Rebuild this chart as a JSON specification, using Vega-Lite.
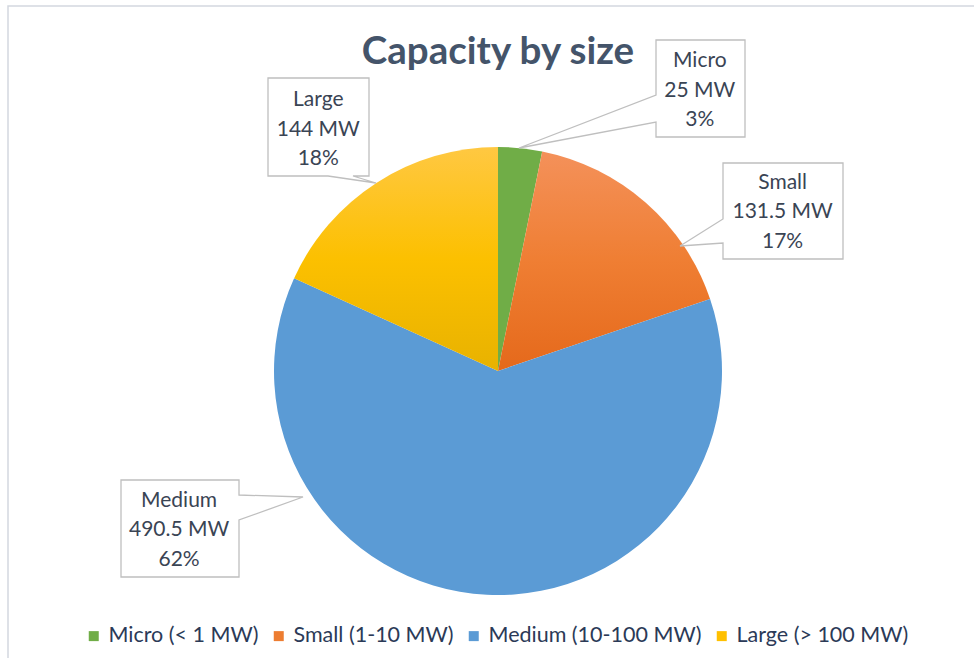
{
  "$schema": "https://vega.github.io/schema/vega-lite/v6.json",
  "autosize": "none",
  "width": 980,
  "height": 730,
  "padding": {"left": 8, "top": 6, "right": 0, "bottom": 0},
  "background": "white",
  "view": {"stroke": "#D3D8DF", "strokeWidth": 1.5},
  "title": {
    "text": "Capacity by size",
    "font": "Lato",
    "fontSize": 38.5,
    "fontWeight": "bold",
    "color": "#44546A",
    "anchor": "middle",
    "frame": "group",
    "baseline": "alphabetic",
    "offset": 0,
    "dy": 131
  },
  "data": {
    "values": [
      {"category": "Micro (< 1 MW)", "order": 1, "value": 25, "label": ["Micro", "25 MW", "3%"]},
      {"category": "Small (1-10 MW)", "order": 2, "value": 131.5, "label": ["Small", "131.5 MW", "17%"]},
      {"category": "Medium (10-100 MW)", "order": 3, "value": 490.5, "label": ["Medium", "490.5 MW", "62%"]},
      {"category": "Large (> 100 MW)", "order": 4, "value": 144, "label": ["Large", "144 MW", "18%"]}
    ]
  },
  "layer": [
    {
      "mark": {"type": "arc", "outerRadius": 224},
      "encoding": {
        "theta": {"field": "value", "type": "quantitative", "stack": true},
        "order": {"field": "order", "type": "quantitative"},
        "color": {
          "field": "category",
          "type": "nominal",
          "condition": [
            {"test": "datum.order === 2", "value": {"gradient": "linear", "x1": 0, "y1": 0, "x2": 0, "y2": 1, "stops": [{"offset": 0, "color": "#F4915A"}, {"offset": 0.5, "color": "#EF7E33"}, {"offset": 1, "color": "#E5691B"}]}},
            {"test": "datum.order === 4", "value": {"gradient": "linear", "x1": 0, "y1": 0, "x2": 0, "y2": 1, "stops": [{"offset": 0, "color": "#FFC842"}, {"offset": 0.5, "color": "#FCC000"}, {"offset": 1, "color": "#E8B200"}]}}
          ],
          "scale": {
            "domain": ["Micro (< 1 MW)", "Small (1-10 MW)", "Medium (10-100 MW)", "Large (> 100 MW)"],
            "range": ["#70AD47", "#ED7D31", "#5B9BD5", "#FFC000"]
          },
          "legend": {
            "orient": "none",
            "legendX": 75,
            "legendY": 619,
            "direction": "horizontal",
            "title": null,
            "symbolType": "square",
            "symbolSize": 100,
            "symbolStrokeWidth": 0,
            "labelFont": "Lato",
            "labelFontSize": 21.5,
            "labelColor": "#2B3A57",
            "labelLimit": 400,
            "labelOffset": 4,
            "columnPadding": 9
          }
        }
      }
    },
    {
      "mark": {"type": "point", "filled": true, "fill": "white", "stroke": "#BFBFBF", "strokeWidth": 1.3, "size": 4, "opacity": 1},
      "encoding": {
        "shape": {
          "field": "order",
          "type": "ordinal",
          "legend": null,
          "scale": {
            "domain": [1, 2, 3, 4],
            "range": [
              "M158,-331H247V-234H158V-249L21,-223L158,-276Z",
              "M225,-208H345V-112H225V-128L182,-125L225,-152Z",
              "M-377,109H-259V124L-195,126L-259,149V206H-377Z",
              "M-230,-293H-129V-195H-145L-122,-188L-170,-195H-230Z"
            ]
          }
        }
      }
    },
    {
      "mark": {"type": "text", "radius": 260, "dx": 176, "dy": -51, "font": "Lato", "fontSize": 21, "lineHeight": 29.5, "align": "center", "baseline": "middle", "color": "#3A4454"},
      "encoding": {
        "theta": {"field": "value", "type": "quantitative", "stack": true},
        "order": {"field": "order", "type": "quantitative"},
        "text": {"condition": {"test": "datum.order === 1", "field": "label"}, "value": ""}
      }
    },
    {
      "mark": {"type": "text", "radius": 260, "dx": 113, "dy": 7, "font": "Lato", "fontSize": 21, "lineHeight": 29.5, "align": "center", "baseline": "middle", "color": "#3A4454"},
      "encoding": {
        "theta": {"field": "value", "type": "quantitative", "stack": true},
        "order": {"field": "order", "type": "quantitative"},
        "text": {"condition": {"test": "datum.order === 2", "field": "label"}, "value": ""}
      }
    },
    {
      "mark": {"type": "text", "radius": 260, "dx": -306, "dy": -130, "font": "Lato", "fontSize": 21, "lineHeight": 29.5, "align": "center", "baseline": "middle", "color": "#3A4454"},
      "encoding": {
        "theta": {"field": "value", "type": "quantitative", "stack": true},
        "order": {"field": "order", "type": "quantitative"},
        "text": {"condition": {"test": "datum.order === 3", "field": "label"}, "value": ""}
      }
    },
    {
      "mark": {"type": "text", "radius": 260, "dx": -39, "dy": -52, "font": "Lato", "fontSize": 21, "lineHeight": 29.5, "align": "center", "baseline": "middle", "color": "#3A4454"},
      "encoding": {
        "theta": {"field": "value", "type": "quantitative", "stack": true},
        "order": {"field": "order", "type": "quantitative"},
        "text": {"condition": {"test": "datum.order === 4", "field": "label"}, "value": ""}
      }
    }
  ]
}
